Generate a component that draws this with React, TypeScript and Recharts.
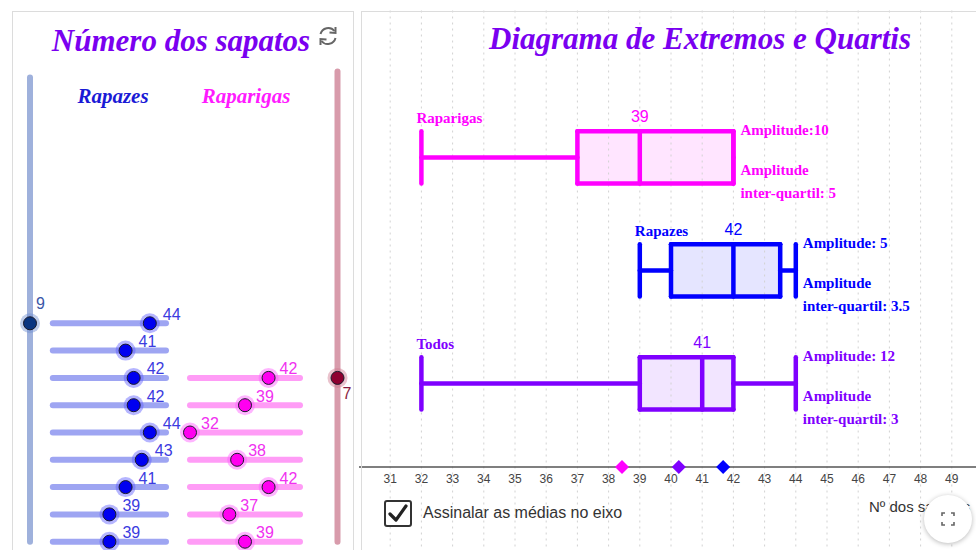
import React from 'react';
import {
  ComposedChart,
  ScatterChart,
  Scatter,
  XAxis,
  YAxis,
  ReferenceLine,
  ReferenceArea,
} from 'recharts';

const SERIF = '"Liberation Serif", "Times New Roman", serif';
const SANS = '"Liberation Sans", Arial, sans-serif';

// números dos sapatos, um slider por aluno (de cima para baixo)
const BOYS_SIZES = [44, 41, 42, 42, 44, 43, 41, 39, 39];
const GIRLS_SIZES = [42, 39, 32, 38, 42, 37, 39];
const SIZE_MIN = 32;
const SIZE_MAX = 46;
const ROW_MAX = 18;

// diagrama de extremos e quartis
const GROUPS = ['Raparigas', 'Rapazes', 'Todos'];
const MINS = [32, 39, 32];
const Q1S = [37, 40, 39];
const MEDIANS = [39, 42, 41];
const Q3S = [42, 43.5, 42];
const MAXS = [42, 44, 44];
const MEANS = [38.43, 41.67, 40.25];
const RANGE_LABELS = ['Amplitude:10', 'Amplitude: 5', 'Amplitude: 12'];
const IQR_LABELS = ['inter-quartil: 5', 'inter-quartil: 3.5', 'inter-quartil: 3'];
const AXIS_TICKS = [31, 32, 33, 34, 35, 36, 37, 38, 39, 40, 41, 42, 43, 44, 45, 46, 47, 48, 49];

const GROUP_COLORS = ['#ff00ff', '#0000ff', '#7f00ff'];
const TITLE_COLOR = '#7a00f0';

const Y_TOP = -0.8;
const AXIS_Y = 2.74;
const HALF = 0.232;
const LINE_W = 4.5;
// the dotted grid runs past the plot area, from the panel top to the page bottom
const GRID_TOP = -1.3;
const GRID_BOTTOM = 3.48;

const LABEL_STYLE: Record<string, any> = {
  name: { dx: -5, dy: -39, font: SERIF, size: 15, weight: 700, anchor: 'start' },
  median: { dx: 0, dy: -41, font: SANS, size: 16, weight: 400, anchor: 'middle' },
  range: { dx: 7, dy: -27, font: SERIF, size: 15, weight: 700, anchor: 'start' },
  iqrTitle: { dx: 7, dy: 13, font: SERIF, size: 15, weight: 700, anchor: 'start' },
  iqr: { dx: 7, dy: 36, font: SERIF, size: 15, weight: 700, anchor: 'start' },
};

const groupLabels = (i: number) => [
  { x: MINS[i], y: i, text: GROUPS[i], kind: 'name' },
  { x: MEDIANS[i], y: i, text: String(MEDIANS[i]), kind: 'median' },
  { x: MAXS[i], y: i, text: RANGE_LABELS[i], kind: 'range' },
  { x: MAXS[i], y: i, text: 'Amplitude', kind: 'iqrTitle' },
  { x: MAXS[i], y: i, text: IQR_LABELS[i], kind: 'iqr' },
];

// segments of one box plot: whiskers, end caps, box outline, median
const boxSegments = (i: number) => {
  const lo = i - HALF;
  const hi = i + HALF;
  return [
    [{ x: MINS[i], y: i }, { x: Q1S[i], y: i }],
    [{ x: Q3S[i], y: i }, { x: MAXS[i], y: i }],
    [{ x: MINS[i], y: lo }, { x: MINS[i], y: hi }],
    [{ x: MAXS[i], y: lo }, { x: MAXS[i], y: hi }],
    [{ x: Q1S[i], y: lo }, { x: Q3S[i], y: lo }],
    [{ x: Q1S[i], y: hi }, { x: Q3S[i], y: hi }],
    [{ x: Q1S[i], y: lo }, { x: Q1S[i], y: hi }],
    [{ x: Q3S[i], y: lo }, { x: Q3S[i], y: hi }],
    [{ x: MEDIANS[i], y: lo }, { x: MEDIANS[i], y: hi }],
  ];
};

const textShape = (color: string) => (props: any) => {
  const s = LABEL_STYLE[props.payload.kind];
  return (
    <text
      x={props.cx + s.dx}
      y={props.cy + s.dy}
      fill={color}
      fontFamily={s.font}
      fontSize={s.size}
      fontWeight={s.weight}
      textAnchor={s.anchor}
      dominantBaseline="central"
    >
      {props.payload.text}
    </text>
  );
};

const diamond = (props: any) => {
  const { cx, cy, fill } = props;
  return <polygon points={`${cx},${cy - 7} ${cx + 7},${cy} ${cx},${cy + 7} ${cx - 7},${cy}`} fill={fill} />;
};

function BoxPlotChart() {
  return (
    <ComposedChart width={624} height={550} margin={{ top: 67, right: 0, bottom: 53, left: 0 }}>
      <XAxis
        type="number"
        dataKey="x"
        domain={[30, 50]}
        ticks={AXIS_TICKS}
        interval={0}
        height={30}
        tickLine={false}
        tickSize={0}
        tickMargin={7}
        axisLine={{ stroke: '#555', strokeWidth: 1.5 }}
        tick={{ fill: '#444', fontSize: 12, fontFamily: SANS }}
      />
      <YAxis type="number" dataKey="y" domain={[Y_TOP, AXIS_Y]} reversed hide />
      {GROUPS.map((g, i) => (
        <ReferenceArea
          key={`fill-${g}`}
          x1={Q1S[i]}
          x2={Q3S[i]}
          y1={i - HALF}
          y2={i + HALF}
          fill={GROUP_COLORS[i]}
          fillOpacity={0.1}
          stroke="none"
        />
      ))}
      {AXIS_TICKS.map((t) => (
        <ReferenceLine
          key={`grid-${t}`}
          segment={[{ x: t, y: GRID_TOP }, { x: t, y: GRID_BOTTOM }]}
          stroke="#d2d2d2"
          strokeDasharray="2 4"
          ifOverflow="visible"
        />
      ))}
      {GROUPS.map((g, i) => (
        <React.Fragment key={g}>
          {boxSegments(i).map((seg, k) => (
            <ReferenceLine
              key={k}
              segment={seg}
              stroke={GROUP_COLORS[i]}
              strokeWidth={LINE_W}
              strokeLinecap="round"
            />
          ))}
          <Scatter data={groupLabels(i)} shape={textShape(GROUP_COLORS[i])} isAnimationActive={false} />
        </React.Fragment>
      ))}
      {GROUPS.map((g, i) => (
        <Scatter
          key={`mean-${g}`}
          data={[{ x: MEANS[i], y: AXIS_Y }]}
          fill={GROUP_COLORS[i]}
          shape={diamond}
          isAnimationActive={false}
        />
      ))}
    </ComposedChart>
  );
}

const knob = (fill: string, halo: string, labelColor: string, dx: number, dy: number, getLabel: (p: any) => string) =>
  (props: any) => {
    const { cx, cy } = props;
    return (
      <g>
        <circle cx={cx} cy={cy} r={10} fill={halo} fillOpacity={0.45} />
        <circle cx={cx} cy={cy} r={6.5} fill={fill} stroke="#1a1a2a" strokeWidth={1} />
        <text x={cx + dx} y={cy + dy} fill={labelColor} fontFamily={SANS} fontSize={16} dominantBaseline="central">
          {getLabel(props.payload)}
        </text>
      </g>
    );
  };

const ROW_MARGIN = { top: 77.6, bottom: 8.3 };

function SizeSliders({ sizes, left, right, track, fill, halo, labelColor, dx }: any) {
  const rows = sizes.map((v: number, k: number) => ({ x: v, y: sizes.length - k }));
  return (
    <ScatterChart width={360} height={550} margin={{ ...ROW_MARGIN, left, right: 360 - right }}>
      <XAxis type="number" dataKey="x" domain={[SIZE_MIN, SIZE_MAX]} hide />
      <YAxis type="number" dataKey="y" domain={[1, ROW_MAX]} hide />
      {rows.map((r: any) => (
        <ReferenceLine
          key={r.y}
          segment={[{ x: SIZE_MIN, y: r.y }, { x: SIZE_MAX, y: r.y }]}
          stroke={track}
          strokeWidth={6}
          strokeLinecap="round"
        />
      ))}
      <Scatter
        data={rows}
        shape={knob(fill, halo, labelColor, dx, -9, (p) => String(p.x))}
        isAnimationActive={false}
      />
    </ScatterChart>
  );
}

function CountSliders() {
  const counts = [BOYS_SIZES.length, GIRLS_SIZES.length];
  return (
    <ScatterChart width={360} height={550} margin={{ ...ROW_MARGIN, left: 30, right: 22.5 }}>
      <XAxis type="number" dataKey="x" domain={[0, 1]} hide />
      <YAxis type="number" dataKey="y" domain={[1, ROW_MAX]} hide />
      <ReferenceLine segment={[{ x: 0, y: 1 }, { x: 0, y: ROW_MAX }]} stroke="#9fb1dc" strokeWidth={6} strokeLinecap="round" ifOverflow="visible" />
      <ReferenceLine segment={[{ x: 1, y: 1 }, { x: 1, y: ROW_MAX + 0.22 }]} stroke="#d89bab" strokeWidth={6} strokeLinecap="round" ifOverflow="visible" />
      <Scatter
        data={[{ x: 0, y: counts[0] }]}
        shape={knob('#0a3580', '#6f8fd0', '#3a56a8', 6, -20, (p) => String(p.y))}
        isAnimationActive={false}
      />
      <Scatter
        data={[{ x: 1, y: counts[1] }]}
        shape={knob('#8e0030', '#d07a90', '#8a1c40', 5, 16, (p) => String(p.y))}
        isAnimationActive={false}
      />
    </ScatterChart>
  );
}

const abs = (s: React.CSSProperties): React.CSSProperties => ({ position: 'absolute', ...s });

const titleStyle = (left: number, top: number): React.CSSProperties =>
  abs({
    left,
    top,
    transform: 'translateX(-50%)',
    whiteSpace: 'nowrap',
    fontFamily: SERIF,
    fontStyle: 'italic',
    fontWeight: 700,
    fontSize: 31,
    lineHeight: '36px',
    color: TITLE_COLOR,
  });

const headerStyle = (left: number, color: string): React.CSSProperties =>
  abs({
    left,
    top: 84,
    transform: 'translateX(-50%)',
    whiteSpace: 'nowrap',
    fontFamily: SERIF,
    fontStyle: 'italic',
    fontWeight: 700,
    fontSize: 21,
    lineHeight: '24px',
    color,
  });

export default function App() {
  return (
    <div style={abs({ left: 0, top: 0, width: 976, height: 550, overflow: 'hidden', background: '#fff' })}>
      {/* painel esquerdo */}
      <div style={abs({ left: 12, top: 11, width: 340, height: 560, border: '1px solid #dcdcdc' })} />
      <div style={titleStyle(181, 23)}>Número dos sapatos</div>
      <svg style={abs({ left: 316, top: 24 })} width={24} height={24} viewBox="0 0 24 24">
        <path d="M4.5 10 A8 8 0 0 1 18.5 7" fill="none" stroke="#666" strokeWidth={2} />
        <path d="M19.5 3 L19.5 9 L13.5 8.5" fill="none" stroke="#666" strokeWidth={2} />
        <path d="M19.5 14 A8 8 0 0 1 5.5 17" fill="none" stroke="#666" strokeWidth={2} />
        <path d="M4.5 21 L4.5 15 L10.5 15.5" fill="none" stroke="#666" strokeWidth={2} />
      </svg>
      <div style={headerStyle(113, '#1a1ad6')}>Rapazes</div>
      <div style={headerStyle(246, '#ff1aff')}>Raparigas</div>
      <div style={abs({ left: 0, top: 0 })}>
        <CountSliders />
      </div>
      <div style={abs({ left: 0, top: 0 })}>
        <SizeSliders sizes={BOYS_SIZES} left={52.8} right={166} track="#9ea5f2" fill="#0000f0" halo="#5b5bff" labelColor="#3b3be0" dx={13} />
      </div>
      <div style={abs({ left: 0, top: 0 })}>
        <SizeSliders sizes={GIRLS_SIZES} left={190} right={300} track="#ff9cf6" fill="#ff00f0" halo="#ff5cff" labelColor="#f030f0" dx={11} />
      </div>

      {/* painel direito */}
      <div style={abs({ left: 359, top: 0, width: 617, height: 550, overflow: 'hidden' })}>
        <BoxPlotChart />
      </div>
      <div style={abs({ left: 361, top: 11, width: 640, height: 560, borderLeft: '1px solid #dcdcdc', borderTop: '1px solid #dcdcdc' })} />
      <div style={titleStyle(700, 21)}>Diagrama de Extremos e Quartis</div>

      {/* caixa de seleção */}
      <div style={abs({ left: 384, top: 500, width: 24, height: 23, border: '2px solid #333', borderRadius: 3, background: '#fff' })}>
        <svg width={24} height={23} viewBox="0 0 24 23">
          <path d="M4 12 L10 18 L20 4" fill="none" stroke="#222" strokeWidth={3.2} strokeLinecap="round" strokeLinejoin="round" />
        </svg>
      </div>
      <div style={abs({ left: 423, top: 503, fontFamily: SANS, fontSize: 16, lineHeight: '20px', color: '#333', whiteSpace: 'nowrap' })}>
        Assinalar as médias no eixo
      </div>
      <div style={abs({ left: 869, top: 497, fontFamily: SANS, fontSize: 15, lineHeight: '20px', color: '#333', whiteSpace: 'nowrap' })}>
        Nº dos sapatos
      </div>

      {/* botão de ecrã inteiro */}
      <div
        style={abs({
          left: 924,
          top: 495,
          width: 48,
          height: 48,
          borderRadius: 24,
          background: '#fff',
          boxShadow: '0 1px 5px rgba(0,0,0,0.28)',
        })}
      >
        <svg width={48} height={48} viewBox="0 0 48 48">
          <path
            d="M18 21 V18 H21 M27 18 H30 V21 M30 27 V30 H27 M21 30 H18 V27"
            fill="none"
            stroke="#666"
            strokeWidth={1.6}
          />
        </svg>
      </div>
    </div>
  );
}
